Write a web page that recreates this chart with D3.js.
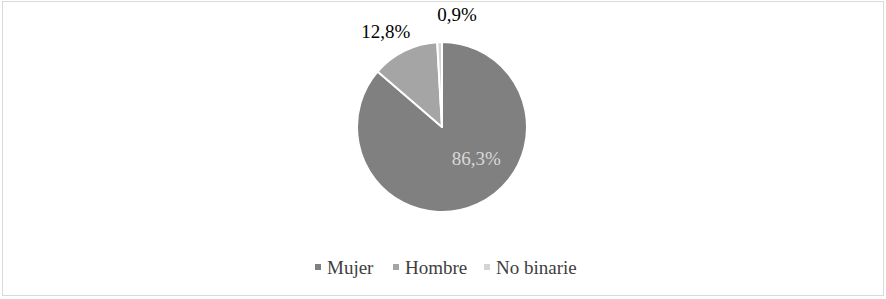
<!DOCTYPE html>
<html>
<head>
<meta charset="utf-8">
<script src="https://cdn.jsdelivr.net/npm/d3@7"></script>
<style>
  body { margin: 0; background: #fff; }
</style>
</head>
<body>
<svg id="chart" width="886" height="299"></svg>
<script>
// Data
const categories = ['Mujer', 'Hombre', 'No binarie']
const values = [86.3, 12.8, 0.9]
const labels = ['86,3%', '12,8%', '0,9%']
const colors = ['#808080', '#a5a5a5', '#d4d4d4']

const font = '"Liberation Serif", "DejaVu Serif", "Times New Roman", serif'
const svg = d3.select('#chart')
const width = 886
const height = 299

// frame
svg.append('rect')
    .attr('x', 2.5).attr('y', 1.5)
    .attr('width', width - 5).attr('height', height - 5)
    .attr('fill', '#fff')
    .attr('stroke', '#d9d9d9')
    .attr('stroke-width', 1)

const cx = 442
const cy = 127
const radius = 85

const pie = d3.pie().sort(null).value(d => d)
const arcs = pie(values)
const arc = d3.arc().innerRadius(0).outerRadius(radius)

const g = svg.append('g').attr('transform', `translate(${cx},${cy})`)

g.selectAll('path.slice')
    .data(arcs)
    .enter()
    .append('path')
    .attr('class', 'slice')
    .attr('d', arc)
    .attr('fill', (_, i) => colors[i])
    .attr('stroke', '#fff')
    .attr('stroke-width', 2)
    .attr('stroke-linejoin', 'round')

// labels: first inside, the two small ones outside
const inner = d3.arc().innerRadius(radius * 0.6).outerRadius(radius * 0.6)
const outer = d3.arc().innerRadius(radius * 1.2).outerRadius(radius * 1.2)
const labelPos = [
    d => { const c = inner.centroid(d); return [c[0] + 13, c[1] - 13] },
    d => { const c = outer.centroid(d); return [c[0] - 11, c[1] - 2] },
    d => { const c = outer.centroid(d); return [c[0] + 18, c[1] - 8] }
]
const labelColors = ['#d9d9d9', '#000', '#000']

g.selectAll('text.lbl')
    .data(arcs)
    .enter()
    .append('text')
    .attr('class', 'lbl')
    .attr('x', (d, i) => labelPos[i](d)[0])
    .attr('y', (d, i) => labelPos[i](d)[1])
    .attr('text-anchor', 'middle')
    .attr('dominant-baseline', 'middle')
    .attr('font-family', font)
    .attr('font-size', 19)
    .attr('fill', (_, i) => labelColors[i])
    .text((_, i) => labels[i])

// Legend
const legendOffsets = [0, 78, 169]
const legend = svg.append('g').attr('transform', 'translate(0,267)')
const items = legend.selectAll('g.item')
    .data(categories)
    .enter()
    .append('g')
    .attr('class', 'item')
    .attr('transform', (_, i) => `translate(${318 + legendOffsets[i]},0)`)

items.append('rect')
    .attr('x', -3).attr('y', -3)
    .attr('width', 6).attr('height', 6)
    .attr('fill', (_, i) => colors[i])

items.append('text')
    .attr('x', 9)
    .attr('dy', '0.35em')
    .attr('font-family', font)
    .attr('font-size', 19)
    .attr('fill', '#404040')
    .text(d => d)
</script>
</body>
</html>
